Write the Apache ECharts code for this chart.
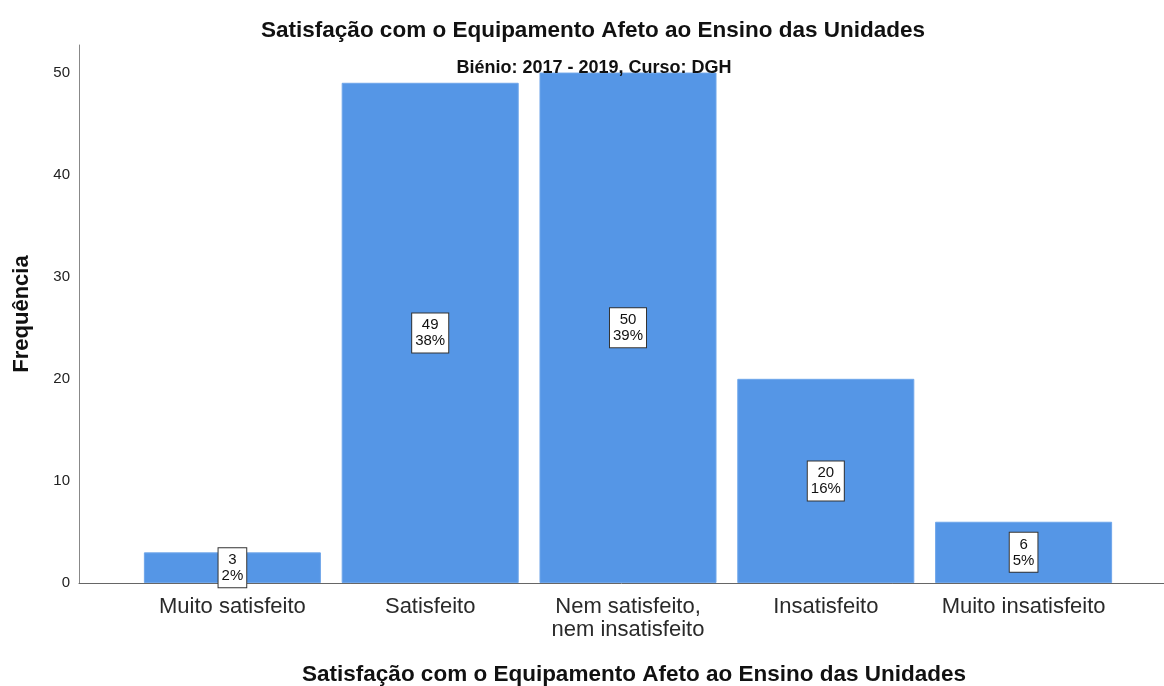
<!DOCTYPE html>
<html><head><meta charset="utf-8">
<script src="https://cdn.jsdelivr.net/npm/echarts@6/dist/echarts.min.js"></script>
<style>html,body{margin:0;padding:0;background:#fff}#c{width:1164px;height:686px}</style>
</head><body><div id="c"></div>
<script>
const categories = ['Muito satisfeito', 'Satisfeito', 'Nem satisfeito,\nnem insatisfeito', 'Insatisfeito', 'Muito insatisfeito'];
const counts = [3, 49, 50, 20, 6];
const percents = [2, 38, 39, 16, 5];
const yTicks = [0, 10, 20, 30, 40, 50];

const FONT = '"Liberation Sans", Arial, sans-serif';
const YMAX = 52.7;
const chart = echarts.init(document.getElementById('c'), null, {renderer: 'canvas'});
chart.setOption({
  animation: false,
  backgroundColor: '#fff',
  textStyle: {fontFamily: FONT},
  title: [
    {text: 'Satisfação com o Equipamento Afeto ao Ensino das Unidades', left: 588, top: 14, textAlign: 'center',
     textStyle: {fontFamily: FONT, fontSize: 22.5, fontWeight: 'bold', color: '#111'}},
    {text: 'Biénio: 2017 - 2019, Curso: DGH', left: 589, top: 54, textAlign: 'center',
     textStyle: {fontFamily: FONT, fontSize: 18, fontWeight: 'bold', color: '#111'}},
    {text: 'Satisfação com o Equipamento Afeto ao Ensino das Unidades', left: 629, top: 658, textAlign: 'center',
     textStyle: {fontFamily: FONT, fontSize: 22.5, fontWeight: 'bold', color: '#111'}}
  ],
  grid: [
    {left: 79, right: 0, top: 45, bottom: 103},
    {left: 133.5, width: 989, top: 45, bottom: 103}
  ],
  xAxis: [
    {gridIndex: 0, type: 'value', min: 0, max: 1, axisLine: {show: true, lineStyle: {color: '#666', width: 1}},
     axisTick: {show: false}, axisLabel: {show: false}, splitLine: {show: false}},
    {gridIndex: 1, type: 'category', data: categories, axisLine: {show: false}, axisTick: {show: false},
     splitLine: {show: false},
     axisLabel: {fontFamily: FONT, fontSize: 22, color: '#2a2a2a', margin: 12, lineHeight: 23, interval: 0}}
  ],
  yAxis: [
    {gridIndex: 0, type: 'value', min: 0, max: YMAX, interval: 10,
     name: 'Frequência', nameLocation: 'middle', nameGap: 46, nameRotate: 90,
     nameTextStyle: {fontFamily: FONT, fontSize: 22, fontWeight: 'bold', color: '#111'},
     axisLine: {show: true, lineStyle: {color: '#888', width: 1}}, axisTick: {show: false}, splitLine: {show: false},
     axisLabel: {fontFamily: FONT, fontSize: 15, color: '#222', margin: 9,
       formatter: v => yTicks.includes(v) ? String(v) : ''}},
    {gridIndex: 1, type: 'value', min: 0, max: YMAX, show: false, splitLine: {show: false}}
  ],
  series: [{
    type: 'bar', xAxisIndex: 1, yAxisIndex: 1,
    data: counts, barCategoryGap: '10.5%',
    itemStyle: {color: '#5596E6', borderColor: '#6FA6EA', borderWidth: 1},
    label: {show: true, position: 'inside',
      formatter: p => counts[p.dataIndex] + '\n' + percents[p.dataIndex] + '%',
      fontFamily: FONT, fontSize: 15, lineHeight: 16, color: '#111', align: 'center',
      backgroundColor: '#fff', borderColor: '#333', borderWidth: 1, padding: [4, 3, 3, 3]}
  }]
});
</script></body></html>
